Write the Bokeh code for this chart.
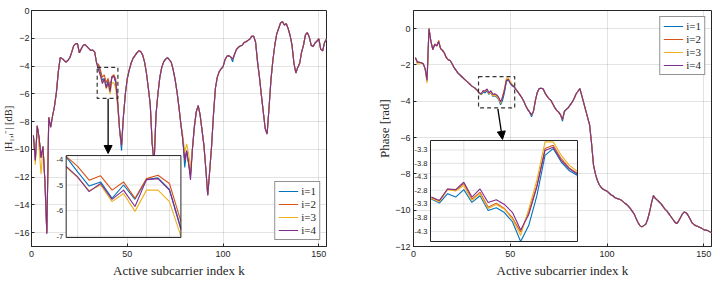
from bokeh.plotting import figure
from bokeh.layouts import row
from bokeh.models import (Range1d, FixedTicker, Legend, LegendItem,
                          Arrow, NormalHead, BoxAnnotation)
from bokeh.core.properties import value
from bokeh.embed import file_html
from bokeh.resources import INLINE

# ---------------- data ----------------
k = list(range(1, 155))
series_names = ["i=1", "i=2", "i=3", "i=4"]
colors = ["#0072BD", "#D95319", "#EDB120", "#7E2F8E"]

# magnitude [dB], common curve (k = 1..154)
mag_base = [
    -9.0, -10.8, -8.3, -9.2, -10.6, -9.8, -12.3, -16.0, -7.7, -8.4,      # 1-10
    -7.6, -6.9, -5.9, -4.4, -3.4, -3.45, -3.6, -3.72, -3.6, -3.4,        # 11-20
    -3.0, -2.55, -2.4, -2.38, -3.05, -2.75, -2.5, -2.45, -2.6, -2.75,    # 21-30
    -2.88, -2.85, -3.0, -3.8, -3.9, -4.3, -4.8, -4.7, -5.3, -4.95,       # 31-40
    -5.55, -4.8, -4.7, -5.05, -6.5, -8.6, -9.7, -7.6, -6.0, -4.9,        # 41-50
    -4.3, -3.8, -3.45, -3.25, -3.05, -2.9, -2.95, -3.2, -3.7, -4.5,      # 51-60
    -5.6, -6.8, -9.6, -11.0, -7.5, -6.0, -4.8, -4.1, -3.7, -3.5,         # 61-70
    -3.4, -3.55, -3.75, -4.3, -5.0, -5.9, -7.0, -8.2, -9.3, -10.8,       # 71-80
    -10.1, -11.0, -11.9, -10.0, -8.4, -7.3, -6.85, -7.5, -8.6, -9.7,     # 81-90
    -11.4, -13.3, -11.6, -9.8, -7.5, -5.6, -4.8, -4.4, -4.2, -4.05,      # 91-100
    -3.55, -3.3, -3.25, -3.35, -3.5, -3.15, -2.8, -2.65, -2.55, -2.5,    # 101-110
    -2.3, -2.25, -2.15, -2.05, -1.85, -1.85, -2.3, -3.7, -4.8, -6.1,     # 111-120
    -7.3, -8.5, -8.9, -7.0, -5.0, -3.6, -2.5, -1.7, -1.3, -0.9,          # 121-130
    -0.8, -1.05, -0.95, -1.3, -1.8, -2.5, -3.8, -4.5, -4.1, -3.8,        # 131-140
    -3.0, -2.5, -1.75, -1.6, -1.9, -2.5, -2.6, -2.35, -2.2, -2.05,       # 141-150
    -2.8, -2.9, -2.3, -2.05,                                             # 151-154
]
# per-series values inside the zoomed window (k = 35..45)
mag_zoom_k = list(range(35, 46))
mag_zoom = [
    [-3.90, -4.49, -5.04, -4.88, -5.52, -5.00, -5.56, -4.79, -4.72, -5.17, -6.68],
    [-3.88, -4.27, -4.81, -4.64, -5.20, -4.88, -5.52, -4.75, -4.62, -4.94, -6.42],
    [-4.30, -4.71, -5.22, -5.00, -5.65, -5.33, -6.03, -5.20, -5.20, -5.65, -7.00],
    [-4.27, -4.68, -5.26, -4.94, -5.56, -5.20, -5.84, -4.79, -4.75, -5.20, -6.74],
]
# other visible departures from the common curve
mag_dev = [
    {47: -10.1, 80: -11.3, 105: -3.7},
    {},
    {2: -11.1, 4: -10.0, 5: -11.8, 63: -9.3, 79: -9.0, 80: -10.2, 81: -9.6, 82: -10.3, 83: -11.3},
    {8: -16.1, 83: -12.2},
]

# phase [rad], common curve (k = 1..154)
phase_base = [
    -1.6, -1.85, -1.85, -1.88, -1.93, -2.2, -2.85, 0.0, -0.7, -1.15,     # 1-10
    -0.85, -0.95, -0.72, -1.1, -1.2, -1.35, -1.6, -1.72, -1.75, -1.95,   # 11-20
    -2.15, -2.3, -2.45, -2.55, -2.65, -2.75, -2.85, -2.95, -3.05, -3.15, # 21-30
    -3.22, -3.3, -3.4, -3.55, -3.6, -3.43, -3.45, -3.35, -3.57, -3.47,   # 31-40
    -3.69, -3.63, -3.71, -3.85, -4.06, -3.76, -3.37, -2.82, -2.77, -2.97,# 41-50
    -3.11, -3.19, -3.35, -3.5, -3.65, -3.8, -4.0, -4.25, -4.45, -4.6,    # 51-60
    -4.75, -4.55, -3.95, -3.5, -3.3, -3.28, -3.32, -3.55, -3.72, -3.85,  # 61-70
    -3.95, -4.15, -4.35, -4.5, -4.6, -4.75, -5.0, -4.55, -4.45, -4.35,   # 71-80
    -4.2, -4.05, -3.85, -3.6, -3.45, -3.3, -3.7, -4.1, -4.5, -4.9,       # 81-90
    -5.3, -6.3, -7.5, -8.0, -8.35, -8.6, -8.75, -8.85, -8.9, -8.95,      # 91-100
    -9.05, -9.15, -9.2, -9.3, -9.35, -9.38, -9.42, -9.5, -9.6, -9.67,    # 101-110
    -9.78, -9.9, -10.05, -10.2, -10.45, -10.68, -10.85, -10.92, -10.85, -10.78,  # 111-120
    -10.5, -10.1, -9.6, -9.2, -9.35, -9.45, -9.55, -9.65, -9.8, -9.95,   # 121-130
    -10.05, -10.2, -10.35, -10.5, -10.65, -10.74, -10.6, -10.4, -10.2, -10.1,    # 131-140
    -10.15, -10.3, -10.5, -10.7, -10.8, -10.86, -10.9, -10.95, -11.0, -11.07,    # 141-150
    -11.1, -11.12, -11.18, -11.25,                                       # 151-154
]
phase_zoom_k = list(range(34, 53))
phase_zoom = [
    [-3.57, -3.63, -3.49, -3.54, -3.43, -3.62, -3.52, -3.74, -3.70, -3.77, -3.91, -4.20, -3.96, -3.52, -2.92, -2.82, -3.02, -3.15, -3.22],
    [-3.55, -3.60, -3.42, -3.44, -3.34, -3.57, -3.47, -3.69, -3.63, -3.71, -3.85, -4.06, -3.76, -3.37, -2.82, -2.77, -2.97, -3.11, -3.19],
    [-3.56, -3.61, -3.43, -3.45, -3.37, -3.59, -3.49, -3.71, -3.65, -3.72, -3.87, -4.11, -3.72, -3.29, -2.72, -2.72, -2.92, -3.07, -3.16],
    [-3.54, -3.59, -3.42, -3.43, -3.32, -3.54, -3.42, -3.62, -3.58, -3.65, -3.77, -4.03, -3.80, -3.39, -2.85, -2.80, -3.00, -3.12, -3.20],
]
phase_dev = [
    {7: -2.75, 61: -4.85, 77: -5.1},
    {13: -0.65},
    {2: -1.95, 3: -1.95, 7: -3.0},
    {},
]

x_ticks = [0, 50, 100, 150]
mag_yticks = [-16, -14, -12, -10, -8, -6, -4, -2, 0]
phase_yticks = [-12, -10, -8, -6, -4, -2, 0]

mag_inset_xticks = [36, 38, 40, 42, 44]
mag_inset_yticks = [-7, -6, -5, -4]
mag_inset_ylabels = ["-7", "-6", "-5", "-4"]
phase_inset_xticks = [38, 43, 48]
phase_inset_yticks = [-2.84, -3.04, -3.24, -3.44, -3.64, -3.84, -4.05]
phase_inset_ylabels = ["-3.3", "-3.8", "-4.3", "-2.8", "-3.3", "-3.8", "-4.3"]

x_label = "Active subcarrier index k"
mag_label = "|H\u2081,\u1d62\u207b| [dB]"
phase_label = "Phase [rad]"

# ---------------- styling constants ----------------
AX = "#262626"
DASH = "#333333"
TICK_FONT = "Liberation Sans"
SERIF = "Liberation Serif"


def build(base, zk, zvals, dev):
    out = []
    for s in range(4):
        y = list(base)
        for kk, v in zip(zk, zvals[s]):
            y[kk - 1] = v
        for kk, v in dev[s].items():
            y[kk - 1] = v
        out.append(y)
    return out


mag_series = build(mag_base, mag_zoom_k, mag_zoom, mag_dev)
phase_series = build(phase_base, phase_zoom_k, phase_zoom, phase_dev)


def make_panel(xr, yr, yticks, w, bl, br, ylabel, ylabel_size, ystand, lstand):
    p = figure(width=w, height=288,
               x_range=Range1d(*xr), y_range=Range1d(*yr),
               output_backend="svg", toolbar_location=None,
               min_border_left=bl, min_border_right=br,
               min_border_top=10, min_border_bottom=42,
               background_fill_color="white", border_fill_color="white")
    p.outline_line_color = AX
    p.outline_line_width = 1
    p.xaxis.ticker = FixedTicker(ticks=x_ticks)
    p.yaxis.ticker = FixedTicker(ticks=yticks)
    for ax in p.axis:
        ax.axis_line_color = AX
        ax.major_tick_line_color = AX
        ax.major_tick_in = 3
        ax.major_tick_out = 0
        ax.minor_tick_in = 0
        ax.minor_tick_out = 0
        ax.major_label_text_font = TICK_FONT
        ax.major_label_text_font_size = "9px"
        ax.major_label_text_color = AX
        ax.axis_label_text_font = SERIF
        ax.axis_label_text_font_style = "normal"
        ax.axis_label_text_color = AX
    p.xaxis.major_label_standoff = 4
    p.yaxis.major_label_standoff = ystand
    p.xaxis.axis_label = x_label
    p.xaxis.axis_label_text_font_size = "13px"
    p.xaxis.axis_label_standoff = 3
    p.yaxis.axis_label = ylabel
    p.yaxis.axis_label_text_font_size = ylabel_size
    p.yaxis.axis_label_standoff = lstand
    for g in (p.xgrid, p.ygrid):
        g.grid_line_color = AX
        g.grid_line_alpha = 0.13
    return p


def draw_inset(p, name, box, ixr, iyr, xt, yt, ylabels, kx, vals):
    x0, x1, y0, y1 = box
    mx0, mx1 = p.x_range.start, p.x_range.end
    my0, my1 = p.y_range.start, p.y_range.end
    sx = (ixr[1] - ixr[0]) / (x1 - x0)
    sy = (iyr[1] - iyr[0]) / (y1 - y0)
    ex = Range1d(ixr[0] - (x0 - mx0) * sx, ixr[1] + (mx1 - x1) * sx)
    ey = Range1d(iyr[0] - (y0 - my0) * sy, iyr[1] + (my1 - y1) * sy)
    nx, ny = name + "_x", name + "_y"
    p.extra_x_ranges = {**p.extra_x_ranges, nx: ex}
    p.extra_y_ranges = {**p.extra_y_ranges, ny: ey}
    rk = dict(x_range_name=nx, y_range_name=ny)
    p.quad(left=[ixr[0]], right=[ixr[1]], bottom=[iyr[0]], top=[iyr[1]],
           fill_color="white", line_color=None, **rk)
    p.segment(x0=xt, x1=xt, y0=[iyr[0]] * len(xt), y1=[iyr[1]] * len(xt),
              line_color=AX, line_alpha=0.13, line_width=1, **rk)
    p.segment(x0=[ixr[0]] * len(yt), x1=[ixr[1]] * len(yt), y0=yt, y1=yt,
              line_color=AX, line_alpha=0.13, line_width=1, **rk)
    for s in range(4):
        p.line(kx, vals[s], line_color=colors[s], line_width=1.1, **rk)
    p.quad(left=[ixr[0]], right=[ixr[1]], bottom=[iyr[0]], top=[iyr[1]],
           fill_color=None, line_color=AX, line_width=1, **rk)
    p.text(x=[ixr[0]] * len(yt), y=yt, text=ylabels, x_offset=-3,
           text_align="right", text_baseline="middle",
           text_font=value(TICK_FONT), text_font_size=value("7.5px"),
           text_color=AX, **rk)


def add_legend(p, renderers, loc):
    items = [LegendItem(label=n, renderers=[r]) for n, r in zip(series_names, renderers)]
    lg = Legend(items=items, location=loc, orientation="vertical",
                border_line_color=AX, border_line_width=1, background_fill_color="white",
                background_fill_alpha=1, padding=3, spacing=1, margin=6,
                glyph_width=20, glyph_height=12, label_height=12, label_width=14,
                label_standoff=3, label_text_font=SERIF, label_text_font_size="11px",
                label_text_color=AX)
    p.add_layout(lg)


# ---------------- left: magnitude ----------------
p1 = make_panel((0, 154), (-17, 0), mag_yticks, 360, 20, 34, mag_label, "10.5px", 2, -3)
r1 = [p1.line(k, mag_series[s], line_color=colors[s], line_width=1.1) for s in range(4)]
p1.add_layout(BoxAnnotation(left=34.3, right=45.1, bottom=-6.33, top=-4.1,
                            fill_alpha=0, line_color=DASH, line_alpha=1,
                            line_dash="4 3", line_width=1.2))
p1.add_layout(Arrow(end=NormalHead(size=8, fill_color="black", line_color="black"),
                    x_start=40.0, y_start=-6.35, x_end=40.0, y_end=-10.3,
                    line_color="black", line_width=1.3))
draw_inset(p1, "mi", (18.1, 78.0, -16.35, -10.45), (35, 45), (-7.05, -3.85),
           mag_inset_xticks, mag_inset_yticks, mag_inset_ylabels,
           mag_zoom_k, mag_zoom)
add_legend(p1, r1, "bottom_right")

# ---------------- right: phase ----------------
p2 = make_panel((0, 154), (-12, 1), phase_yticks, 357, 53, 6, phase_label, "13px", 3, 0)
r2 = [p2.line(k, phase_series[s], line_color=colors[s], line_width=1.1) for s in range(4)]
p2.add_layout(BoxAnnotation(left=33.6, right=52.3, bottom=-4.36, top=-2.64,
                            fill_alpha=0, line_color=DASH, line_alpha=1,
                            line_dash="4 3", line_width=1.2))
p2.add_layout(Arrow(end=NormalHead(size=8, fill_color="black", line_color="black"),
                    x_start=43.6, y_start=-4.42, x_end=46.0, y_end=-6.1,
                    line_color="black", line_width=1.3))
draw_inset(p2, "pi", (8.79, 84.75, -11.725, -6.161), (33.9, 52.0), (-4.2, -2.7),
           phase_inset_xticks, phase_inset_yticks, phase_inset_ylabels,
           phase_zoom_k, phase_zoom)
add_legend(p2, r2, "top_right")

layout = row(p1, p2)
open("out.html", "w").write(file_html(layout, INLINE))
